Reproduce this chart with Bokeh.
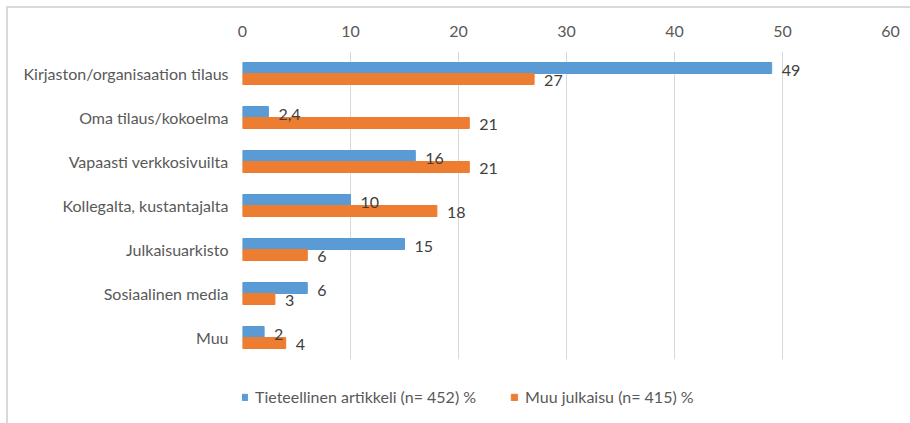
from bokeh.plotting import figure
from bokeh.models import ColumnDataSource, FactorRange, Legend, LegendItem, Range1d
from bokeh.layouts import column
from bokeh.transform import dodge
from bokeh.core.properties import value
from bokeh.embed import file_html
from bokeh.resources import INLINE

categories = ["Kirjaston/organisaation tilaus", "Oma tilaus/kokoelma", "Vapaasti verkkosivuilta",
              "Kollegalta, kustantajalta", "Julkaisuarkisto", "Sosiaalinen media", "Muu"]
tieteellinen = [49, 2.4, 16, 10, 15, 6, 2]
muu_julkaisu = [27, 21, 21, 18, 6, 3, 4]
tieteellinen_labels = ["49", "2,4", "16", "10", "15", "6", "2"]
muu_labels = ["27", "21", "21", "18", "6", "3", "4"]
x_ticks = [0, 10, 20, 30, 40, 50, 60]
series_names = ["Tieteellinen artikkeli (n= 452) %", "Muu julkaisu (n= 415) %"]

FONT = "Lato"
FS = "16px"
BLUE = "#5B9BD5"
ORANGE = "#ED7D31"
TXT = "#595959"

src = ColumnDataSource(dict(cat=categories, a=tieteellinen, b=muu_julkaisu,
                            al=tieteellinen_labels, bl=muu_labels))

p = figure(width=902, height=357, output_backend="svg", toolbar_location=None,
           x_range=(0, 60), y_range=FactorRange(*reversed(categories)),
           x_axis_location="above",
           min_border_left=234, min_border_right=20, min_border_top=43, min_border_bottom=6)
p.outline_line_color = None
p.background_fill_color = "white"

p.hbar(y=dodge("cat", 0.125, range=p.y_range), right="a", left=0, height=0.25,
       color=BLUE, source=src)
p.hbar(y=dodge("cat", -0.125, range=p.y_range), right="b", left=0, height=0.25,
       color=ORANGE, source=src)

p.text(x="a", y=dodge("cat", 0.125, range=p.y_range), text="al", source=src,
       x_offset=10, y_offset=2, text_baseline="middle", text_font=value(FONT),
       text_font_size=FS, text_color="#404040")
p.text(x="b", y=dodge("cat", -0.125, range=p.y_range), text="bl", source=src,
       x_offset=10, y_offset=1, text_baseline="middle", text_font=value(FONT),
       text_font_size=FS, text_color="#404040")

p.xaxis.ticker = x_ticks
p.xaxis.axis_line_color = None
p.xaxis.major_tick_line_color = None
p.xaxis.minor_tick_line_color = None
p.xaxis.major_tick_out = 0
p.xaxis.minor_tick_out = 0
p.xaxis.major_label_text_font = FONT
p.xaxis.major_label_text_font_size = FS
p.xaxis.major_label_text_color = TXT
p.xaxis.major_label_standoff = 15

p.yaxis.axis_line_color = None
p.yaxis.major_tick_line_color = None
p.yaxis.minor_tick_line_color = None
p.yaxis.major_tick_out = 0
p.yaxis.minor_tick_out = 0
p.yaxis.major_label_text_font = FONT
p.yaxis.major_label_text_font_size = FS
p.yaxis.major_label_text_color = TXT
p.yaxis.major_label_standoff = 14

p.xgrid.grid_line_color = "#D9D9D9"
p.ygrid.grid_line_color = None

# legend strip (hidden copies of the two series supply the legend glyphs)
q = figure(width=902, height=58, output_backend="svg", toolbar_location=None,
           x_range=Range1d(0, 60), y_range=FactorRange(*reversed(categories)),
           x_axis_location=None, y_axis_location=None,
           min_border_left=0, min_border_right=0, min_border_top=0, min_border_bottom=0)
q.outline_line_color = None
q.grid.grid_line_color = None
l1 = q.hbar(y="cat", right="a", left=0, height=0.25, color=BLUE, source=src, visible=False)
l2 = q.hbar(y="cat", right="b", left=0, height=0.25, color=ORANGE, source=src, visible=False)

legend = Legend(items=[LegendItem(label=series_names[0], renderers=[l1]),
                       LegendItem(label=series_names[1], renderers=[l2])],
                orientation="horizontal", location=(-2, 17),
                label_text_font=FONT, label_text_font_size=FS, label_text_color=TXT,
                glyph_width=8, glyph_height=8, spacing=34, label_standoff=7,
                inactive_fill_alpha=0,
                border_line_color=None, background_fill_alpha=0, margin=0, padding=0)
q.add_layout(legend)

layout = column(p, q, spacing=0)
layout.styles = {"margin-left": "6px", "margin-top": "6px",
                 "border-left": "2px solid #D9D9D9", "border-top": "2px solid #D9D9D9"}

open("out.html", "w").write(file_html(layout, INLINE))
